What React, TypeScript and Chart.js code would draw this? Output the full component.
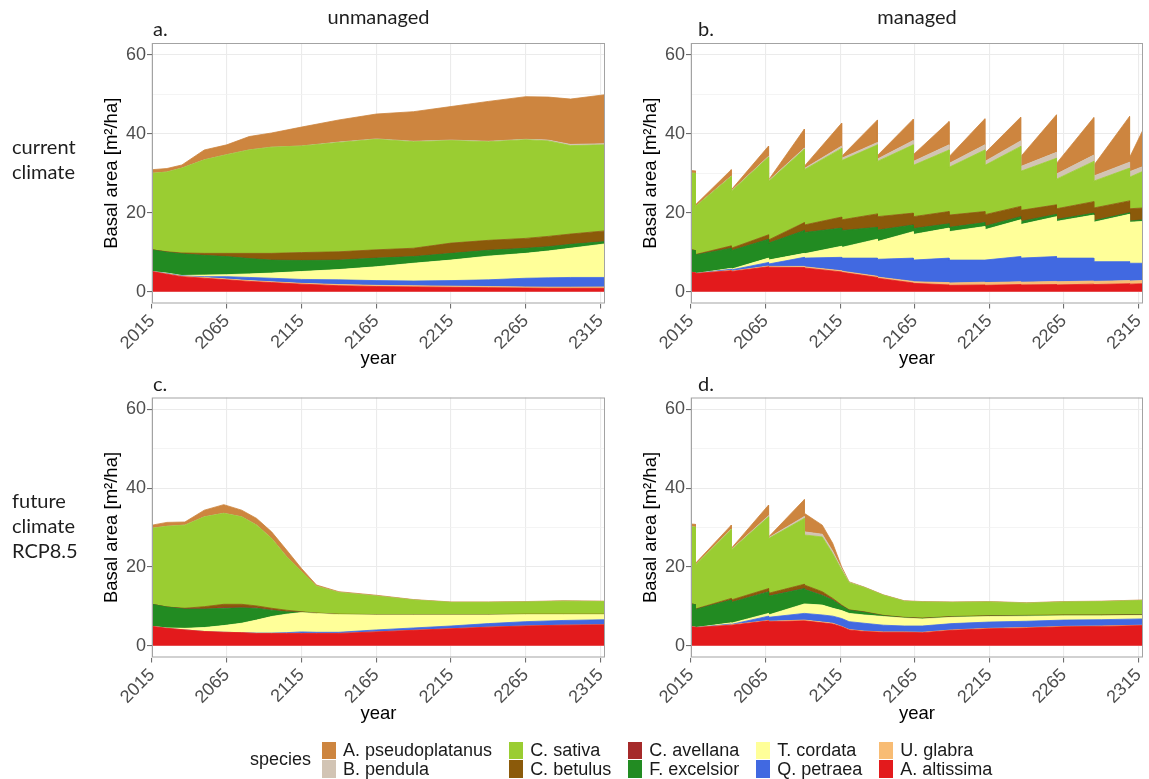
import React, { useEffect, useRef } from 'react';
import { Chart, registerables } from 'chart.js';

Chart.register(...registerables);

// ---------- shared definitions ----------
const SPECIES = [
  'A. pseudoplatanus', 'B. pendula', 'C. sativa', 'C. betulus', 'C. avellana',
  'F. excelsior', 'T. cordata', 'Q. petraea', 'U. glabra', 'A. altissima',
];
const COLORS = [
  '#CD853F', '#D2C4B4', '#9ACD32', '#8B5A0A', '#A52A2A',
  '#228B22', '#FFFF99', '#4169E1', '#F8BC74', '#E31A1C',
];
const X_TICKS = [2015, 2065, 2115, 2165, 2215, 2265, 2315];
const Y_TICKS = [0, 10, 20, 30, 40, 50, 60];
const Y_LABELED = [0, 20, 40, 60];
const X_MIN = 2015;
const X_MAX = 2318;
const Y_MIN = -3;
const Y_MAX = 63;

// ---------- panel a : unmanaged, current climate ----------
const YEARS_A = [2015, 2025, 2035, 2050, 2065, 2080, 2095, 2115, 2140, 2165, 2190, 2215, 2240, 2265, 2280, 2295, 2318];
const A_APSEU = [0.9, 0.9, 0.8, 2.5, 2.5, 3.4, 3.6, 4.8, 5.6, 6.3, 7.5, 8.5, 10.1, 10.8, 10.9, 11.5, 12.4];
const A_BPEND = [0, 0, 0, 0, 0, 0, 0, 0, 0.1, 0.1, 0.1, 0.1, 0.1, 0.1, 0.2, 0.3, 0.3];
const A_CSATI = [19.4, 20.2, 21.5, 23.7, 25.0, 26.2, 26.9, 27.0, 27.7, 28.0, 27.0, 26.0, 25.0, 25.0, 24.2, 22.4, 21.8];
const A_CBETU = [0, 0.1, 0.2, 0.5, 0.8, 1.3, 1.7, 2.0, 2.1, 2.1, 2.1, 2.6, 2.5, 2.5, 2.6, 2.6, 2.7];
const A_CAVEL = [0, 0, 0, 0, 0, 0, 0, 0, 0, 0, 0, 0, 0, 0, 0, 0, 0];
const A_FEXCE = [5.5, 5.3, 5.5, 5.0, 4.6, 3.9, 3.3, 2.8, 2.4, 2.2, 1.7, 1.7, 1.5, 1.3, 1.1, 1.0, 0.6];
const A_TCORD = [0, 0.1, 0.1, 0.4, 0.5, 0.9, 1.3, 2.0, 2.6, 3.5, 4.5, 5.2, 6.0, 6.3, 6.8, 7.4, 8.5];
const A_QPETR = [0, 0.1, 0.1, 0.2, 0.6, 0.8, 0.9, 1.0, 1.2, 1.2, 1.2, 1.4, 1.7, 2.2, 2.35, 2.45, 2.4];
const A_UGLAB = [0, 0.1, 0.1, 0.2, 0.2, 0.2, 0.2, 0.2, 0.3, 0.3, 0.3, 0.3, 0.3, 0.3, 0.3, 0.3, 0.35];
const A_AALTI = [5.1, 4.4, 3.8, 3.4, 3.0, 2.6, 2.3, 1.9, 1.5, 1.3, 1.2, 1.1, 1.0, 0.9, 0.85, 0.85, 0.85];

// ---------- panel b : managed, current climate (harvest years appear twice: before / after) ----------
const YEARS_B = [2015, 2018, 2018, 2042, 2042, 2067, 2067, 2091, 2091, 2116, 2116, 2140, 2140, 2164, 2164, 2188, 2188, 2212, 2212, 2236, 2236, 2260, 2260, 2285, 2285, 2309, 2309, 2318];
const B_APSEU = [0.7, 0.6, 0.4, 1.6, 0.3, 2.6, 0.2, 4.8, 0.6, 5.8, 0.5, 5.7, 0.9, 5.4, 1.7, 5.9, 1.7, 6.6, 2.1, 6.0, 2.5, 9.5, 2.7, 9.5, 2.7, 11.6, 3.6, 9.3];
const B_BPEND = [0, 0, 0, 0.1, 0.1, 0.2, 0.2, 0.3, 0.3, 0.6, 0.6, 0.6, 0.6, 1.1, 1.0, 1.3, 1.0, 1.3, 1.0, 1.4, 1.2, 1.5, 1.3, 1.6, 1.3, 1.5, 1.4, 1.2];
const B_CSATI = [19.4, 19.6, 12.2, 17.6, 14.4, 19.7, 14.8, 18.6, 14.0, 17.4, 15.0, 17.5, 14.0, 17.3, 13.0, 15.6, 12.1, 15.6, 12.5, 15.2, 9.9, 11.8, 7.5, 10.2, 6.8, 8.3, 8.0, 9.3];
const B_CBETU = [0, 0, 0.1, 0.6, 0.6, 1.1, 0.8, 2.0, 1.9, 2.8, 2.7, 3.4, 3.4, 3.0, 3.0, 3.1, 3.1, 2.8, 2.9, 2.6, 2.8, 2.4, 2.7, 2.9, 3.2, 3.0, 3.1, 3.0];
const B_CAVEL = [0, 0, 0, 0, 0, 0, 0, 0, 0, 0, 0, 0, 0, 0, 0, 0, 0, 0, 0, 0, 0, 0, 0, 0, 0, 0, 0, 0];
const B_FEXCE = [5.7, 5.6, 4.7, 5.1, 4.7, 4.8, 4.3, 5.8, 5.4, 4.6, 4.3, 3.0, 2.9, 1.7, 1.5, 1.1, 1.1, 1.0, 0.9, 0.8, 0.8, 0.6, 0.5, 0.5, 0.4, 0.4, 0.3, 0.4];
const B_TCORD = [0, 0, 0, 0.2, 0.2, 1.1, 1.0, 1.0, 1.1, 2.8, 2.7, 4.8, 4.5, 6.7, 6.5, 7.6, 7.2, 8.5, 7.7, 9.3, 8.5, 10.1, 9.3, 10.9, 10.0, 12.0, 10.4, 10.6];
const B_QPETR = [0, 0, 0, 0.3, 0.3, 0.9, 0.6, 2.3, 2.2, 3.4, 3.3, 4.6, 4.5, 5.9, 5.5, 6.2, 5.8, 5.6, 5.7, 6.4, 6.1, 6.3, 6.0, 5.8, 5.0, 4.8, 4.5, 4.4];
const B_UGLAB = [0, 0, 0, 0.1, 0.1, 0.2, 0.2, 0.3, 0.3, 0.3, 0.3, 0.3, 0.3, 0.4, 0.4, 0.6, 0.6, 0.7, 0.7, 0.7, 0.7, 0.8, 0.8, 0.8, 0.8, 0.8, 0.8, 0.8];
const B_AALTI = [4.9, 4.8, 4.6, 5.3, 5.1, 6.3, 6.2, 6.1, 6.0, 5.0, 4.9, 3.6, 3.4, 2.2, 2.1, 1.7, 1.6, 1.7, 1.6, 1.8, 1.7, 1.8, 1.7, 1.9, 1.8, 2.0, 1.9, 2.0];

// ---------- panel c : unmanaged, future climate RCP8.5 ----------
const YEARS_C = [2015, 2025, 2037, 2050, 2063, 2075, 2085, 2095, 2105, 2115, 2125, 2140, 2165, 2190, 2215, 2240, 2265, 2290, 2318];
const C_APSEU = [0.8, 1.0, 0.8, 1.7, 2.2, 1.7, 1.7, 1.7, 1.7, 0.8, 0.3, 0.2, 0.2, 0.1, 0.1, 0.1, 0.1, 0.1, 0.1];
const C_BPEND = [0, 0, 0, 0, 0, 0, 0, 0, 0, 0, 0, 0, 0, 0, 0, 0, 0, 0, 0];
const C_CSATI = [19.3, 20.5, 21.1, 22.8, 23.1, 22.2, 20.5, 17.7, 13.6, 10.2, 6.8, 5.5, 4.7, 3.7, 3.1, 3.1, 3.1, 3.3, 3.2];
const C_CBETU = [0, 0, 0.15, 0.5, 0.8, 0.7, 0.5, 0.4, 0.4, 0.1, 0.1, 0.1, 0.1, 0.1, 0.1, 0.1, 0.1, 0.1, 0.1];
const C_CAVEL = [0, 0, 0.05, 0.1, 0.2, 0.2, 0.1, 0.1, 0, 0, 0, 0, 0, 0, 0, 0, 0, 0, 0];
const C_FEXCE = [5.6, 5.3, 4.9, 4.7, 4.4, 3.9, 3.0, 1.6, 0.6, 0.1, 0, 0, 0, 0, 0, 0, 0, 0, 0];
const C_TCORD = [0, 0.1, 0.4, 1.0, 1.7, 2.4, 3.3, 4.2, 4.7, 4.9, 4.8, 4.5, 3.8, 3.3, 2.8, 2.2, 1.8, 1.5, 1.3];
const C_QPETR = [0, 0, 0, 0, 0, 0, 0.1, 0.1, 0.2, 0.4, 0.3, 0.3, 0.5, 0.6, 0.7, 0.9, 1.1, 1.2, 1.3];
const C_UGLAB = [0, 0, 0, 0, 0, 0, 0, 0, 0, 0, 0, 0, 0, 0, 0, 0, 0, 0, 0];
const C_AALTI = [4.9, 4.4, 4.0, 3.6, 3.4, 3.3, 3.1, 3.1, 3.1, 3.1, 3.1, 3.1, 3.5, 3.9, 4.3, 4.7, 5.0, 5.2, 5.3];

// ---------- panel d : managed, future climate RCP8.5 ----------
const YEARS_D = [2015, 2018, 2018, 2042, 2042, 2067, 2067, 2091, 2091, 2103, 2110, 2116, 2121, 2131, 2144, 2158, 2170, 2190, 2215, 2240, 2265, 2290, 2318];
const D_APSEU = [0.7, 0.7, 0.4, 1.0, 0.3, 2.7, 0.2, 4.3, 4.7, 2.3, 2.0, 0.5, 0.1, 0.1, 0.1, 0.1, 0.1, 0.1, 0.1, 0.1, 0.1, 0.1, 0.1];
const D_BPEND = [0, 0, 0, 0.1, 0.1, 0.3, 0.2, 0.5, 0.8, 0.7, 0.6, 0.3, 0.1, 0, 0, 0, 0, 0, 0, 0, 0, 0, 0];
const D_CSATI = [19.6, 19.7, 11.2, 17.5, 12.7, 18.2, 13.9, 16.7, 12.7, 13.9, 11.4, 8.9, 6.9, 6.2, 5.1, 4.1, 4.1, 3.6, 3.5, 3.1, 3.3, 3.4, 3.6];
const D_CBETU = [0, 0, 0.1, 0.4, 0.6, 0.7, 0.6, 1.0, 1.0, 0.8, 0.3, 0.2, 0.1, 0.1, 0.1, 0.1, 0.1, 0.1, 0.1, 0.1, 0.1, 0.1, 0.1];
const D_CAVEL = [0, 0, 0, 0, 0, 0.1, 0.1, 0.1, 0.1, 0.1, 0.1, 0, 0, 0, 0, 0, 0, 0, 0, 0, 0, 0, 0];
const D_FEXCE = [5.8, 5.7, 4.6, 5.8, 5.3, 5.5, 4.8, 3.9, 3.7, 2.5, 2.1, 1.2, 0.8, 0.7, 0.2, 0.1, 0.1, 0.1, 0.1, 0.1, 0.1, 0.1, 0.1];
const D_TCORD = [0, 0, 0, 0.3, 0.3, 0.7, 0.6, 2.4, 2.4, 2.5, 2.0, 2.0, 2.1, 2.1, 2.2, 2.0, 1.8, 1.6, 1.4, 1.3, 1.1, 1.0, 0.9];
const D_QPETR = [0, 0, 0, 0.2, 0.1, 1.1, 1.0, 1.7, 1.7, 1.8, 1.8, 2.0, 2.0, 2.0, 1.7, 1.5, 1.6, 1.6, 1.6, 1.6, 1.6, 1.6, 1.6];
const D_UGLAB = [0, 0, 0, 0.1, 0.1, 0.1, 0.1, 0.2, 0.2, 0.2, 0.2, 0.1, 0.1, 0.1, 0.1, 0.1, 0.1, 0.1, 0.1, 0.1, 0.1, 0.1, 0.1];
const D_AALTI = [4.8, 4.7, 4.6, 5.2, 5.2, 6.3, 6.1, 6.3, 6.3, 5.8, 5.5, 4.8, 4.0, 3.6, 3.4, 3.4, 3.3, 3.9, 4.3, 4.5, 4.8, 4.9, 5.1];

// ---------- layout of the four panels ----------
type Pad = { left: number; right: number; top: number; bottom: number };
type PanelSpec = {
  years: number[];
  values: number[][];
  left: number; top: number; width: number; height: number;
  pad: Pad; yWidth: number; xHeight: number;
};

const PANELS: PanelSpec[] = [
  {
    years: YEARS_A,
    values: [A_APSEU, A_BPEND, A_CSATI, A_CBETU, A_CAVEL, A_FEXCE, A_TCORD, A_QPETR, A_UGLAB, A_AALTI],
    left: 85, top: 25, width: 535, height: 347,
    pad: { left: 16, right: 15, top: 18, bottom: 2 }, yWidth: 51, xHeight: 66.5,
  },
  {
    years: YEARS_B,
    values: [B_APSEU, B_BPEND, B_CSATI, B_CBETU, B_CAVEL, B_FEXCE, B_TCORD, B_QPETR, B_UGLAB, B_AALTI],
    left: 620, top: 25, width: 529, height: 347,
    pad: { left: 20, right: 6, top: 18, bottom: 2 }, yWidth: 51, xHeight: 66.5,
  },
  {
    years: YEARS_C,
    values: [C_APSEU, C_BPEND, C_CSATI, C_CBETU, C_CAVEL, C_FEXCE, C_TCORD, C_QPETR, C_UGLAB, C_AALTI],
    left: 85, top: 380, width: 535, height: 347,
    pad: { left: 16, right: 15, top: 17.5, bottom: 1.5 }, yWidth: 51, xHeight: 68,
  },
  {
    years: YEARS_D,
    values: [D_APSEU, D_BPEND, D_CSATI, D_CBETU, D_CAVEL, D_FEXCE, D_TCORD, D_QPETR, D_UGLAB, D_AALTI],
    left: 620, top: 380, width: 529, height: 347,
    pad: { left: 20, right: 6, top: 17.5, bottom: 1.5 }, yWidth: 51, xHeight: 68,
  },
];

const SANS = '"Liberation Sans", Arial, Helvetica, sans-serif';
const LABEL_FONT = 'Lato, "Open Sans", sans-serif';

const panelBox = {
  id: 'panelBox',
  afterDatasetsDraw(chart: any) {
    const { ctx, chartArea } = chart;
    const { left, top, right, bottom } = chartArea;
    ctx.save();
    ctx.strokeStyle = '#A3A3A3';
    ctx.lineWidth = 1;
    ctx.strokeRect(left + 0.5, top + 0.5, right - left - 1, bottom - top - 1);
    ctx.restore();
  },
};

function Panel({ spec }: { spec: PanelSpec }) {
  const ref = useRef<HTMLCanvasElement>(null);
  useEffect(() => {
    if (!ref.current) return;
    // stacking order: bottom = last species in legend order
    const order = SPECIES.map((_, i) => i).reverse();
    const cum = spec.years.map(() => 0);
    const datasets = order.map((s, k) => {
      const vals = spec.values[s];
      const data = spec.years.map((x, i) => {
        cum[i] += vals[i];
        return { x, y: Math.round(cum[i] * 1000) / 1000 };
      });
      return {
        label: SPECIES[s],
        data,
        backgroundColor: COLORS[s],
        borderColor: COLORS[s],
        borderWidth: 0.8,
        pointRadius: 0,
        pointHoverRadius: 0,
        tension: 0,
        fill: k === 0 ? 'origin' : '-1',
      };
    });

    const tickFont = { family: SANS, size: 18 };
    const titleFont = { family: SANS, size: 18.5 };

    const chart = new Chart(ref.current, {
      type: 'line',
      data: { datasets } as any,
      options: {
        responsive: false,
        maintainAspectRatio: false,
        devicePixelRatio: 1,
        animation: false,
        events: [],
        layout: { padding: spec.pad },
        plugins: {
          legend: { display: false },
          tooltip: { enabled: false },
          title: { display: false },
        },
        scales: {
          x: {
            type: 'linear',
            min: X_MIN,
            max: X_MAX,
            afterBuildTicks: (scale: any) => {
              scale.ticks = X_TICKS.map((v) => ({ value: v }));
            },
            afterFit: (scale: any) => {
              scale.height = spec.xHeight;
              scale.paddingLeft = 0;
              scale.paddingRight = 0;
            },
            ticks: {
              autoSkip: false,
              minRotation: 45,
              maxRotation: 45,
              padding: 2,
              color: '#4D4D4D',
              font: tickFont,
              callback: (v: any) => String(v),
            },
            grid: {
              color: '#EBEBEB',
              lineWidth: 1.1,
              tickColor: '#6E6E6E',
              tickLength: 5,
              drawTicks: true,
            },
            border: { display: false },
            title: {
              display: true,
              text: 'year',
              color: '#000000',
              font: titleFont,
              padding: 0,
            },
          },
          y: {
            type: 'linear',
            min: Y_MIN,
            max: Y_MAX,
            afterBuildTicks: (scale: any) => {
              scale.ticks = Y_TICKS.map((v) => ({ value: v }));
            },
            afterFit: (scale: any) => {
              scale.width = spec.yWidth;
              scale.paddingTop = 0;
              scale.paddingBottom = 0;
            },
            ticks: {
              autoSkip: false,
              padding: 1,
              color: '#4D4D4D',
              font: tickFont,
              callback: (v: any) => (Y_LABELED.includes(Number(v)) ? String(v) : ''),
            },
            grid: {
              color: (ctx: any) => (ctx.tick && Y_LABELED.includes(ctx.tick.value) ? '#EBEBEB' : '#F1F1F1'),
              lineWidth: (ctx: any) => (ctx.tick && Y_LABELED.includes(ctx.tick.value) ? 1.1 : 0.8),
              tickColor: (ctx: any) => (ctx.tick && Y_LABELED.includes(ctx.tick.value) ? '#6E6E6E' : 'rgba(0,0,0,0)'),
              tickLength: 5,
              drawTicks: true,
            },
            border: { display: false },
            title: {
              display: true,
              text: 'Basal area [m²/ha]',
              color: '#000000',
              font: titleFont,
              padding: 0,
            },
          },
        },
      } as any,
      plugins: [panelBox],
    });
    return () => chart.destroy();
  }, [spec]);

  return (
    <canvas
      ref={ref}
      width={spec.width}
      height={spec.height}
      style={{ position: 'absolute', left: spec.left, top: spec.top, width: spec.width, height: spec.height }}
    />
  );
}

const LEGEND_COLUMNS = [[0, 1], [2, 3], [4, 5], [6, 7], [8, 9]];

export default function App() {
  return (
    <div
      style={{
        position: 'absolute', left: 0, top: 0, width: 1149, height: 779,
        overflow: 'hidden', background: '#ffffff',
      }}
    >
      {PANELS.map((p, i) => (
        <Panel key={i} spec={p} />
      ))}
      <svg
        width={1149}
        height={779}
        style={{ position: 'absolute', left: 0, top: 0, pointerEvents: 'none' }}
      >
        <g fontFamily={LABEL_FONT} fontSize={20} fill="#1E1E1E">
          <text x={378.5} y={24} textAnchor="middle">unmanaged</text>
          <text x={917} y={24} textAnchor="middle">managed</text>
          <text x={153} y={36}>a.</text>
          <text x={698} y={36}>b.</text>
          <text x={153} y={391}>c.</text>
          <text x={698} y={391}>d.</text>
          <text x={12} y={154}>current</text>
          <text x={12} y={179}>climate</text>
          <text x={12} y={508}>future</text>
          <text x={12} y={533}>climate</text>
          <text x={12} y={558}>RCP8.5</text>
        </g>
      </svg>
      <div
        style={{
          position: 'absolute', left: 250, top: 741, display: 'flex', alignItems: 'center',
          fontFamily: SANS, fontSize: 18, color: '#1A1A1A', whiteSpace: 'nowrap',
        }}
      >
        <div style={{ width: 72 }}>species</div>
        <div style={{ display: 'flex', gap: 17 }}>
          {LEGEND_COLUMNS.map((col, ci) => (
            <div key={ci}>
              {col.map((si) => (
                <div key={si} style={{ display: 'flex', alignItems: 'center', height: 18.5 }}>
                  <span style={{ display: 'inline-block', width: 14, height: 17.5, background: COLORS[si] }} />
                  <span style={{ marginLeft: 7, lineHeight: '18.5px' }}>{SPECIES[si]}</span>
                </div>
              ))}
            </div>
          ))}
        </div>
      </div>
    </div>
  );
}
